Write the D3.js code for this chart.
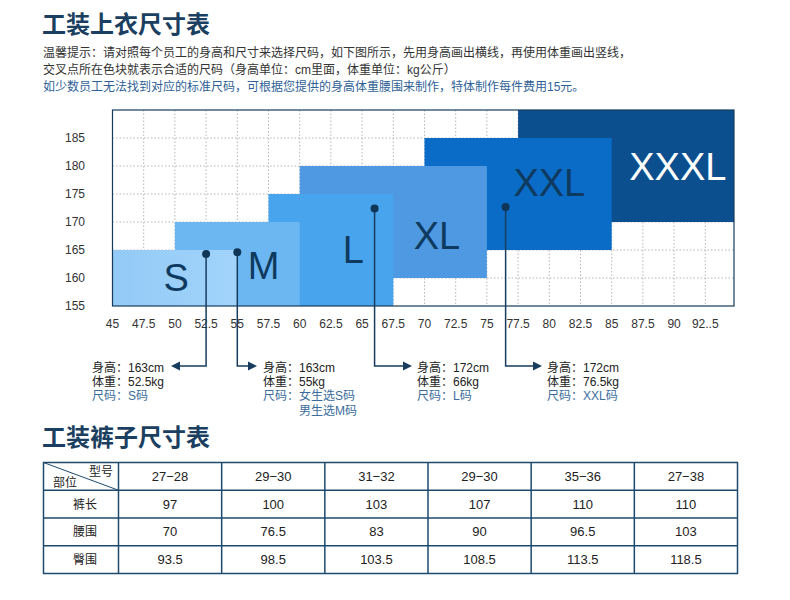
<!DOCTYPE html>
<html><head><meta charset="utf-8">
<script src="https://cdn.jsdelivr.net/npm/d3@7/dist/d3.min.js"></script>
<style>body{margin:0;background:#fff}svg{display:block}</style>
</head><body><svg id="c" width="790" height="600"></svg>
<script>
const FONT = "'Liberation Sans', Arial, 'Noto Sans CJK SC', sans-serif";

// ---- text ----
const title1 = "工装上衣尺寸表";
const title2 = "工装裤子尺寸表";
const notes = [
  "温馨提示：请对照每个员工的身高和尺寸来选择尺码，如下图所示，先用身高画出横线，再使用体重画出竖线，",
  "交叉点所在色块就表示合适的尺码（身高单位：cm里面，体重单位：kg公斤）",
  "如少数员工无法找到对应的标准尺码，可根据您提供的身高体重腰围来制作，特体制作每件费用15元。"
];

// ---- size blocks (kg × cm) ----
const sizes  = ["S", "M", "L", "XL", "XXL", "XXXL"];
const kgFrom = [45, 50, 57.5, 60, 70, 77.5];
const kgTo   = [55, 60, 67.5, 75, 85, 94.8];
const cmFrom = [155, 155, 155, 160, 165, 170];
const cmTo   = [165, 170, 175, 180, 185, 190];
const labelKg = [50.1, 57.1, 64.3, 71.0, 80.0, 90.3];
const labelCm = [160.1, 162.2, 165.1, 167.6, 177.1, 179.9];

// ---- axes ----
const yTicks = [155, 160, 165, 170, 175, 180, 185];
const xTicks = [45, 47.5, 50, 52.5, 55, 57.5, 60, 62.5, 65, 67.5, 70, 72.5, 75, 77.5, 80, 82.5, 85, 87.5, 90, 92.5];
const xTickLabels = ["45","47.5","50","52.5","55","57.5","60","62.5","65","67.5","70","72.5","75","77.5","80","82.5","85","87.5","90","92..5"];

// ---- sample points ----
const sampleKg = [52.5, 55, 66, 76.5];
const sampleCm = [164.3, 164.6, 172.4, 172.7];
const sampleText = [
  ["身高：163cm", "体重：52.5kg", "尺码：S码"],
  ["身高：163cm", "体重：55kg", "尺码：女生选S码", "　　　男生选M码"],
  ["身高：172cm", "体重：66kg", "尺码：L码"],
  ["身高：172cm", "体重：76.5kg", "尺码：XXL码"]
];

// ---- pants table ----
const pantsHeaderTop = "型号";
const pantsHeaderLeft = "部位";
const pantsSizes = ["27−28", "29−30", "31−32", "29−30", "35−36", "27−38"];
const pantsParts = ["裤长", "腰围", "臀围"];
const pantsLength = [97, 100, 103, 107, 110, 110];
const pantsWaist  = [70, 76.5, 83, 90, 96.5, 103];
const pantsHip    = [93.5, 98.5, 103.5, 108.5, 113.5, 118.5];

// ================= drawing =================
const svg = d3.select("#c");
svg.append("rect").attr("width", 790).attr("height", 600).attr("fill", "#fff");

const navy = "#173c5d";
const titleColor = "#1b3f60";

svg.append("text").attr("x", 42).attr("y", 33).text(title1)
  .attr("font-family", FONT).attr("font-size", 24).attr("font-weight", "bold").attr("fill", titleColor);

svg.selectAll("text.note").data(notes).join("text").attr("class", "note")
  .attr("x", 43).attr("y", (d, i) => [56.5, 73.5, 90.5][i]).text(d => d)
  .attr("font-family", FONT).attr("font-size", 12)
  .attr("fill", (d, i) => i === 2 ? "#2f5f96" : "#333");

// scales
const x = d3.scaleLinear().domain([45, 94.8]).range([112.5, 734]);
const y = d3.scaleLinear().domain([155, 190]).range([306, 110]);

// grid
const g = svg.append("g");
g.selectAll("line.vg").data(xTicks.slice(1)).join("line").attr("class", "vg")
  .attr("x1", d => x(d)).attr("x2", d => x(d)).attr("y1", y(190)).attr("y2", y(155))
  .attr("stroke", "#b5b5b5").attr("stroke-width", 1).attr("stroke-dasharray", "1.5,2");
g.selectAll("line.hg").data(yTicks.slice(1)).join("line").attr("class", "hg")
  .attr("x1", x(45)).attr("x2", x(94.8)).attr("y1", d => y(d)).attr("y2", d => y(d))
  .attr("stroke", "#b5b5b5").attr("stroke-width", 1).attr("stroke-dasharray", "1.5,2");

// gradient for S
const defs = svg.append("defs");
const grad = defs.append("linearGradient").attr("id", "sgrad").attr("x1", 0).attr("x2", 1);
grad.append("stop").attr("offset", "0%").attr("stop-color", "#93caf6");
grad.append("stop").attr("offset", "100%").attr("stop-color", "#a2d4fb");

const fills = ["url(#sgrad)", "#6cb7f2", "#49a4ee", "#4e99e1", "#0b6cc7", "#0b4f8f"];
const order = d3.range(sizes.length).reverse();
g.selectAll("rect.blk").data(order).join("rect").attr("class", "blk")
  .attr("x", i => x(kgFrom[i])).attr("width", i => x(kgTo[i]) - x(kgFrom[i]))
  .attr("y", i => y(cmTo[i])).attr("height", i => y(cmFrom[i]) - y(cmTo[i]))
  .attr("fill", i => fills[i]);

g.selectAll("text.blk").data(order).join("text").attr("class", "blk")
  .attr("x", i => x(labelKg[i])).attr("y", i => y(labelCm[i])).attr("dy", "0.36em")
  .attr("text-anchor", "middle").text(i => sizes[i])
  .attr("font-family", FONT).attr("font-size", 38)
  .attr("fill", i => sizes[i] === "XXXL" ? "#ffffff" : "#0f3a5f");

// border
g.append("rect").attr("x", x(45)).attr("y", y(190)).attr("width", x(94.8) - x(45)).attr("height", y(155) - y(190))
  .attr("fill", "none").attr("stroke", navy).attr("stroke-width", 1.2);

// tick labels
g.selectAll("text.yt").data(yTicks).join("text").attr("class", "yt")
  .attr("x", 85).attr("y", d => y(d)).attr("dy", "0.35em").attr("text-anchor", "end").text(d => d)
  .attr("font-family", FONT).attr("font-size", 12).attr("fill", "#333");
g.selectAll("text.xt").data(xTicks).join("text").attr("class", "xt")
  .attr("x", d => x(d)).attr("y", 324).attr("dy", "0.35em").attr("text-anchor", "middle").text((d, i) => xTickLabels[i])
  .attr("font-family", FONT).attr("font-size", 12).attr("fill", "#333");

// sample annotations
const annoLayout = [
  { tx: 92, tip: 171, dir: -1 },
  { tx: 263, tip: 257, dir: 1 },
  { tx: 417, tip: 412, dir: 1 },
  { tx: 547, tip: 542, dir: 1 }
];
const lineY = 366;
sampleKg.forEach((kg, i) => {
  const px = x(kg), py = y(sampleCm[i]);
  const L = annoLayout[i];
  const tail = L.tip - L.dir * 8;
  g.append("path").attr("d", `M${px},${py}V${lineY}H${tail}`)
    .attr("fill", "none").attr("stroke", navy).attr("stroke-width", 1.5);
  g.append("path").attr("d", `M${L.tip},${lineY}L${L.tip - L.dir * 9},${lineY - 4.5}L${L.tip - L.dir * 9},${lineY + 4.5}Z`)
    .attr("fill", navy);
  g.append("circle").attr("cx", px).attr("cy", py).attr("r", 4).attr("fill", "#0f3557");
  sampleText[i].forEach((t, j) => {
    g.append("text").attr("x", L.tx).attr("y", 372 + j * 14.2).text(t)
      .attr("font-family", FONT).attr("font-size", 12)
      .attr("fill", j >= 2 ? "#3b6c9c" : "#222");
  });
});

// ---- pants table ----
svg.append("text").attr("x", 42).attr("y", 446).text(title2)
  .attr("font-family", FONT).attr("font-size", 24).attr("font-weight", "bold").attr("fill", titleColor);

const tLeft = 43.5, tLabelRight = 118.5, tRight = 737.5;
const cx = d3.scaleBand().domain(pantsSizes.map((d, i) => i)).range([tLabelRight, tRight]);
const ry = d3.scaleBand().domain(["head", ...pantsParts]).range([462.5, 573.5]);
const rows = [pantsLength, pantsWaist, pantsHip];
const tg = svg.append("g");
const stroke = "#1e4a6e";

tg.append("rect").attr("x", tLeft).attr("y", ry.range()[0]).attr("width", tRight - tLeft)
  .attr("height", ry.range()[1] - ry.range()[0]).attr("fill", "none").attr("stroke", stroke).attr("stroke-width", 1.5);
tg.selectAll("line.rl").data(pantsParts).join("line").attr("class", "rl")
  .attr("x1", tLeft).attr("x2", tRight).attr("y1", d => ry(d)).attr("y2", d => ry(d))
  .attr("stroke", stroke).attr("stroke-width", 1.5);
tg.selectAll("line.cl").data([null, ...pantsSizes.slice(1).map((d, i) => i + 1)]).join("line").attr("class", "cl")
  .attr("x1", d => d === null ? tLabelRight : cx(d)).attr("x2", d => d === null ? tLabelRight : cx(d))
  .attr("y1", ry.range()[0]).attr("y2", ry.range()[1])
  .attr("stroke", stroke).attr("stroke-width", 1.5);
tg.append("line").attr("x1", tLeft).attr("y1", ry("head")).attr("x2", tLabelRight).attr("y2", ry("head") + ry.bandwidth())
  .attr("stroke", stroke).attr("stroke-width", 1);
tg.append("text").attr("x", 113).attr("y", 476).attr("text-anchor", "end").text(pantsHeaderTop)
  .attr("font-family", FONT).attr("font-size", 12).attr("fill", "#222");
tg.append("text").attr("x", 53).attr("y", 487).text(pantsHeaderLeft)
  .attr("font-family", FONT).attr("font-size", 12).attr("fill", "#222");

tg.selectAll("text.hd").data(pantsSizes).join("text").attr("class", "hd")
  .attr("x", (d, i) => cx(i) + cx.bandwidth() / 2).attr("y", ry("head") + ry.bandwidth() / 2).attr("dy", "0.35em")
  .attr("text-anchor", "middle").text(d => d)
  .attr("font-family", FONT).attr("font-size", 13).attr("fill", "#222");
tg.selectAll("text.rlab").data(pantsParts).join("text").attr("class", "rlab")
  .attr("x", (tLeft + tLabelRight) / 2 + 4).attr("y", d => ry(d) + ry.bandwidth() / 2).attr("dy", "0.38em")
  .attr("text-anchor", "middle").text(d => d)
  .attr("font-family", FONT).attr("font-size", 12).attr("fill", "#222");
rows.forEach((vals, r) => {
  tg.selectAll("text.v" + r).data(vals).join("text").attr("class", "v" + r)
    .attr("x", (d, i) => cx(i) + cx.bandwidth() / 2).attr("y", ry(pantsParts[r]) + ry.bandwidth() / 2).attr("dy", "0.35em")
    .attr("text-anchor", "middle").text(d => d)
    .attr("font-family", FONT).attr("font-size", 13).attr("fill", "#222");
});
</script>
</body></html>
